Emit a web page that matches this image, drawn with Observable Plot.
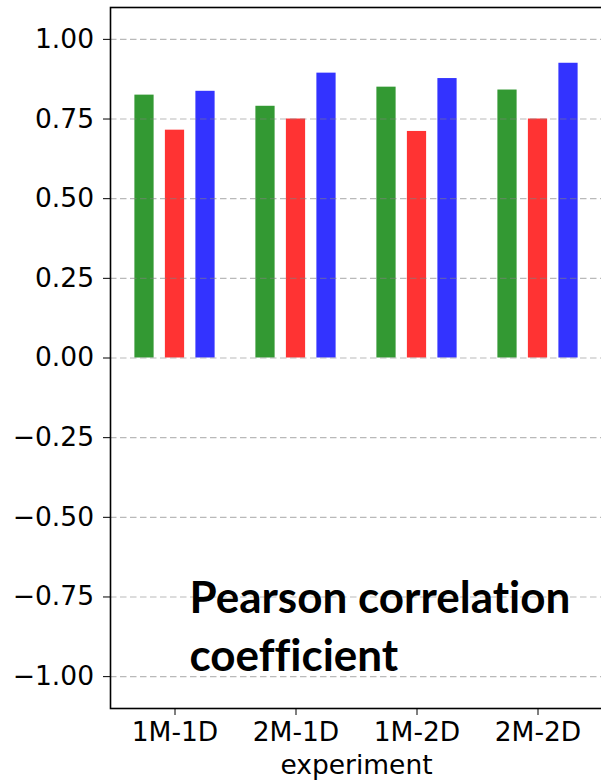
<!DOCTYPE html>
<html>
<head>
<meta charset="utf-8">
<script src="https://cdn.jsdelivr.net/npm/d3@7"></script>
<script src="https://cdn.jsdelivr.net/npm/@observablehq/plot@0.6"></script>
<style>
  html, body { margin: 0; padding: 0; background: #ffffff; overflow: hidden; }
  #chart svg { display: block; max-width: none !important; }
</style>
</head>
<body>
<div id="chart"></div>
<script>
// ---- data ----
const experiments = ["1M-1D", "2M-1D", "1M-2D", "2M-2D"];
const greenValues = [0.825, 0.790, 0.850, 0.841];
const redValues   = [0.715, 0.750, 0.711, 0.750];
const blueValues  = [0.837, 0.894, 0.877, 0.925];
const yTicks = [-1, -0.75, -0.5, -0.25, 0, 0.25, 0.5, 0.75, 1];
const yDomain = [-1.1, 1.1];
const xLabel = "experiment";
const annotation = "Pearson correlation\ncoefficient";

// ---- layout ----
const W = 604, H = 782;
const mL = 110, mR = 2, mT = 7, mB = 74;
const padOuter = 0.02;
const bandW = (W - mL - mR) / (experiments.length + 2 * padOuter);
const barW = 20, barStep = 30.5;
const inset = (bandW - barW) / 2;

const series = [
  {values: greenValues, fill: "#339933", dx: -barStep},
  {values: redValues,   fill: "#ff3333", dx: 0},
  {values: blueValues,  fill: "#3333ff", dx: barStep}
];

const chart = Plot.plot({
  width: W,
  height: H,
  marginLeft: mL,
  marginRight: mR,
  marginTop: mT,
  marginBottom: mB,
  style: {fontFamily: "DejaVu Sans", fontSize: "26.5px", color: "#000", background: "#fff"},
  x: {domain: experiments, paddingInner: 0, paddingOuter: padOuter, tickSize: 7, tickPadding: 6.5, label: null},
  y: {domain: yDomain, ticks: yTicks, tickFormat: d3.format(".2f"), tickSize: 7, tickPadding: 9.5, label: null},
  marks: [
    ...series.map(s => Plot.barY(experiments, {
      x: d => d,
      y: (d, i) => s.values[i],
      fill: s.fill,
      insetLeft: inset,
      insetRight: inset,
      dx: s.dx
    })),
    Plot.ruleY(yTicks, {stroke: "#808080", strokeOpacity: 0.55, strokeWidth: 1.2, strokeDasharray: "6.5,3.5"}),
    Plot.frame({stroke: "#000", strokeWidth: 1.6}),
    Plot.text([annotation], {
      text: d => d,
      frameAnchor: "bottom-left",
      textAnchor: "start",
      lineAnchor: "bottom",
      lineHeight: 1.3,
      dx: 79,
      dy: -38,
      fontFamily: "Lato",
      fontWeight: "bold",
      fontSize: 44,
      fill: "#000"
    }),
    Plot.text([xLabel], {
      text: d => d,
      frameAnchor: "bottom",
      lineAnchor: "bottom",
      dy: 65,
      fontSize: 26.5,
      fill: "#000"
    })
  ]
});
chart.querySelectorAll("text").forEach(t => {
  if (t.textContent.startsWith("Pearson")) t.style.fontVariantLigatures = "none";
});
document.getElementById("chart").appendChild(chart);
</script>
</body>
</html>
